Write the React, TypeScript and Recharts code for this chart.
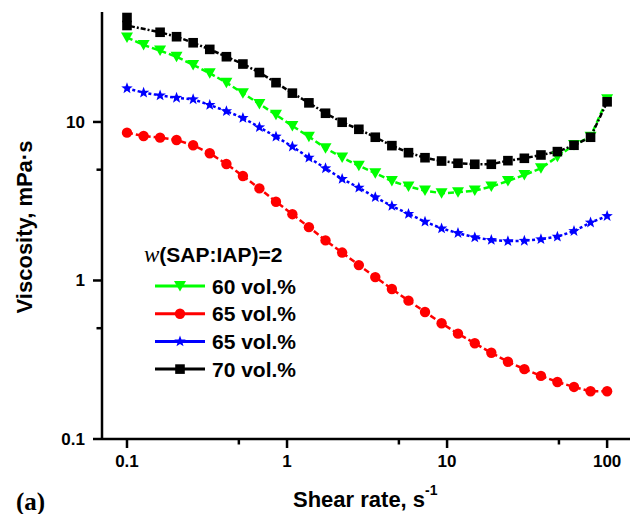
import React from "react";
import { LineChart, Line, XAxis, YAxis } from "recharts";

// -------------------------------
// Data
// -------------------------------
const shearRate = [
  0.1, 0.127, 0.161, 0.204, 0.259, 0.329, 0.418, 0.53, 0.672, 0.853, 1.08,
  1.37, 1.74, 2.21, 2.81, 3.56, 4.52, 5.74, 7.28, 9.24, 11.7, 14.9, 18.9, 24.0,
  30.4, 38.6, 48.9, 62.1, 78.8, 100,
];

const vis60 = [
  34.1, 30.6, 28.2, 25.8, 22.9, 20.3, 17.7, 15.2, 13.0, 11.1, 9.44, 8.08, 6.83,
  5.97, 5.29, 4.75, 4.24, 3.91, 3.69, 3.55, 3.6, 3.69, 3.91, 4.24, 4.63, 5.1,
  6.04, 7.16, 8.08, 13.9,
];

const vis65a = [
  8.56, 8.16, 7.96, 7.7, 7.13, 6.35, 5.43, 4.56, 3.81, 3.14, 2.62, 2.17, 1.79,
  1.5, 1.25, 1.05, 0.884, 0.746, 0.633, 0.537, 0.462, 0.402, 0.35, 0.307,
  0.276, 0.25, 0.229, 0.213, 0.2, 0.2,
];

const vis65b = [
  16.3, 15.3, 14.7, 14.2, 13.9, 12.8, 11.7, 10.6, 9.26, 8.08, 6.99, 5.95, 5.1,
  4.37, 3.85, 3.35, 2.95, 2.63, 2.35, 2.13, 1.99, 1.87, 1.8, 1.77, 1.78, 1.82,
  1.89, 2.05, 2.32, 2.55,
];

// 70 vol.% has two readings at 0.1 s-1 and none at the second rate
const rate70 = [
  0.1, 0.1, 0.161, 0.204, 0.259, 0.329, 0.418, 0.53, 0.672, 0.853, 1.08, 1.37,
  1.74, 2.21, 2.81, 3.56, 4.52, 5.74, 7.28, 9.24, 11.7, 14.9, 18.9, 24.0, 30.4,
  38.6, 48.9, 62.1, 78.8, 100,
];
const vis70 = [
  45.6, 40.6, 36.8, 34.5, 31.6, 28.7, 25.8, 23.2, 20.5, 17.7, 15.2, 13.2, 11.35,
  9.96, 8.99, 8.01, 7.09, 6.4, 5.95, 5.67, 5.49, 5.41, 5.41, 5.7, 5.9, 6.19,
  6.5, 7.13, 8.01, 13.4,
];

const xTicks = [0.1, 0.5, 1, 5, 10, 50, 100];
const yTicks = [0.1, 0.5, 1, 5, 10];
const majorTicks = [0.1, 1, 10, 100];

const legendTitle = "(SAP:IAP)=2";
const legendLabels = ["60 vol.%", "65 vol.%", "65 vol.%", "70 vol.%"];

const toPoints = (xs: number[], ys: number[]) =>
  xs.map((x, i) => ({ x, y: ys[i] }));

const SANS = "'Liberation Sans', Arial, sans-serif";
const SERIF = "'Liberation Serif', 'Times New Roman', serif";

// -------------------------------
// Markers
// -------------------------------
const Triangle = ({ cx, cy, fill }: any) => (
  <polygon
    points={`${cx - 6},${cy - 5} ${cx + 6},${cy - 5} ${cx},${cy + 5.5}`}
    fill={fill}
  />
);
const Circle = ({ cx, cy, fill }: any) => (
  <circle cx={cx} cy={cy} r={5.2} fill={fill} />
);
const Square = ({ cx, cy, fill }: any) => (
  <rect x={cx - 4.8} y={cy - 4.8} width={9.6} height={9.6} fill={fill} />
);
const Star = ({ cx, cy, fill }: any) => {
  const pts: string[] = [];
  for (let k = 0; k < 10; k++) {
    const r = k % 2 === 0 ? 6 : 2.5;
    const a = -Math.PI / 2 + (k * Math.PI) / 5;
    pts.push(`${cx + r * Math.cos(a)},${cy + r * Math.sin(a)}`);
  }
  return <polygon points={pts.join(" ")} fill={fill} />;
};

const dotRenderer = (Shape: any, fill: string, name: string) => (p: any) =>
  (
    <g key={`${name}-${p.index}`}>
      <Shape cx={p.cx} cy={p.cy} fill={fill} />
    </g>
  );

// -------------------------------
// Ticks
// -------------------------------
const XTick = (props: any) => {
  const { x, y, payload } = props;
  const major = majorTicks.includes(payload.value);
  return (
    <g>
      <line x1={x} x2={x} y1={y} y2={y + (major ? 9 : 5.5)} stroke="#000" strokeWidth={2.5} />
      {major && (
        <text x={x} y={y + 28} textAnchor="middle" fontSize={17} fontWeight="bold" fontFamily={SANS} fill="#000">
          {payload.value}
        </text>
      )}
    </g>
  );
};

const YTick = (props: any) => {
  const { x, y, payload } = props;
  const major = majorTicks.includes(payload.value);
  return (
    <g>
      <line x1={x - (major ? 9 : 5.5)} x2={x} y1={y} y2={y} stroke="#000" strokeWidth={2.5} />
      {major && (
        <text x={x - 17} y={y + 6} textAnchor="end" fontSize={17} fontWeight="bold" fontFamily={SANS} fill="#000">
          {payload.value}
        </text>
      )}
    </g>
  );
};

const series = [
  { name: "v60", pts: toPoints(shearRate, vis60), color: "#00ff00", dash: "6 3", Shape: Triangle },
  { name: "v65a", pts: toPoints(shearRate, vis65a), color: "#ff0000", dash: "6 3", Shape: Circle },
  { name: "v65b", pts: toPoints(shearRate, vis65b), color: "#0000ff", dash: "3 2.5", Shape: Star },
  { name: "v70", pts: toPoints(rate70, vis70), color: "#000000", dash: "5 2 2 2", Shape: Square },
];

const xDomain = [0.0698, 139];
const yDomain = [0.1, 49.4];

export default function App() {
  return (
    <div style={{ position: "absolute", left: 0, top: 0, width: 636, height: 514, background: "#fff" }}>
      <LineChart width={636} height={514} margin={{ top: 12, right: 6, left: 0, bottom: 0 }}>
        <XAxis
          dataKey="x"
          type="number"
          scale="log"
          domain={xDomain}
          allowDataOverflow
          ticks={xTicks}
          interval={0}
          height={75}
          tickSize={0}
          tickMargin={0}
          tick={<XTick />}
          tickLine={false}
          axisLine={{ stroke: "#000", strokeWidth: 2.5 }}
        />
        <XAxis
          xAxisId="top"
          orientation="top"
          type="number"
          scale="log"
          domain={xDomain}
          allowDataOverflow
          height={0}
          tick={false}
          tickLine={false}
          axisLine={{ stroke: "#000", strokeWidth: 2.5 }}
        />
        <YAxis
          type="number"
          scale="log"
          domain={yDomain}
          allowDataOverflow
          ticks={yTicks}
          interval={0}
          width={102}
          tickSize={0}
          tickMargin={0}
          tick={<YTick />}
          tickLine={false}
          axisLine={{ stroke: "#000", strokeWidth: 2.5 }}
        />
        <YAxis
          yAxisId="right"
          orientation="right"
          type="number"
          scale="log"
          domain={yDomain}
          allowDataOverflow
          width={0}
          tick={false}
          tickLine={false}
          axisLine={{ stroke: "#000", strokeWidth: 2.5 }}
        />
        {series.map((s) => (
          <Line
            key={s.name}
            data={s.pts}
            dataKey="y"
            stroke={s.color}
            strokeWidth={2.5}
            strokeDasharray={s.dash}
            dot={dotRenderer(s.Shape, s.color, s.name)}
            activeDot={false}
            isAnimationActive={false}
          />
        ))}
      </LineChart>

      <svg width={636} height={514} style={{ position: "absolute", left: 0, top: 0, pointerEvents: "none" }}>
        <text
          transform="translate(32,227) rotate(-90)"
          textAnchor="middle"
          fontSize={22}
          fontWeight="bold"
          fontFamily={SANS}
        >
          Viscosity, mPa·s
        </text>
        <text x={293} y={507} fontSize={22} fontWeight="bold" fontFamily={SANS}>
          Shear rate, s
          <tspan fontSize={14} dy={-12}>-1</tspan>
        </text>
        <text x={16} y={510} fontSize={25} fontWeight="bold" fontFamily={SERIF}>
          (a)
        </text>

        <text x={144} y={262} fontSize={21} fontWeight="bold" fontFamily={SANS}>
          <tspan fontFamily={SERIF} fontStyle="italic" fontWeight="normal" fontSize={23}>w</tspan>
          {legendTitle}
        </text>
        {series.map((s, i) => {
          const cy = 286 + i * 27.7;
          return (
            <g key={s.name}>
              <line x1={155} x2={205} y1={cy} y2={cy} stroke={s.color} strokeWidth={3} />
              <s.Shape cx={180} cy={cy} fill={s.color} />
              <text x={212} y={cy + 7.5} fontSize={21} fontWeight="bold" fontFamily={SANS}>
                {legendLabels[i]}
              </text>
            </g>
          );
        })}
      </svg>
    </div>
  );
}
